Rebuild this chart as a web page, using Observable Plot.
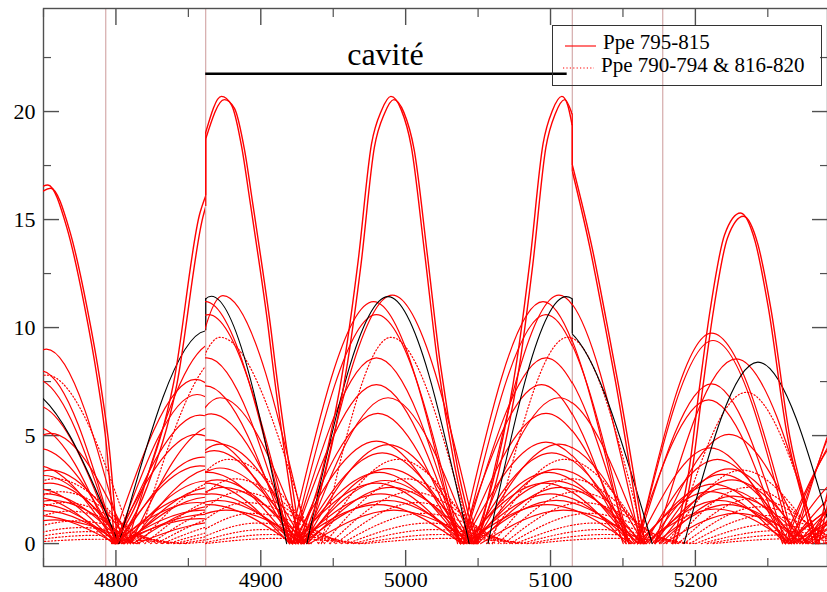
<!DOCTYPE html>
<html><head><meta charset="utf-8">
<script src="https://cdn.jsdelivr.net/npm/d3@7"></script>
<script src="https://cdn.jsdelivr.net/npm/@observablehq/plot@0.6"></script>
<style>
html,body{margin:0;padding:0;background:#fff;overflow:hidden}
#wrap{position:relative;width:827px;height:592px;overflow:hidden;font-family:"Liberation Serif","Times New Roman",serif}
.lg{position:absolute;font:21px/21px "Liberation Serif","Times New Roman",serif;white-space:nowrap;color:#000}
</style></head>
<body><div id="wrap"></div>
<script>
// ---------- axis ticks ----------
const xTicksMajor = [4800, 4900, 5000, 5100, 5200];
const xTicksMinor = [4750, 4850, 4950, 5050, 5150, 5250];
const yTicksMajor = [0, 5, 10, 15, 20];
const yTicksMinor = [2.5, 7.5, 12.5, 17.5, 22.5];
const xDomain = [4750, 5291.2];
const yDomain = [-1.06, 24.77];

// ---------- annotations ----------
const markerLines = [4793, 4862, 5115, 5177.5];
const cavityEdges = [4862, 5115];
const cavityBar = [{x1: 4862, x2: 5111.5, y: 21.75}];
const cavityLabel = [{x: 4986, y: 22.15, t: "cavité"}];
const legendLabels = ["Ppe 795-815", "Ppe 790-794 & 816-820"];

// ---------- the two large (solid) curves: read key points per hump ----------
// hump order: left edge, before cavity, cavity entry, mid cavity, cavity exit, after cavity, next, right edge
const bigA = [
  [[4744,16.3],[4753,16.6],[4766,14.65],[4778,11.1],[4787,7.7],[4793.5,4.5],[4799,0]],
  [[4799,0],[4820,2.8],[4840,7.5],[4858,15.3],[4862,16.1]],
  [[4862,19.0],[4873,20.7],[4880,20.3],[4887,18.35],[4892.6,15.9],[4899.5,12.8],[4905.3,10.0],[4908,8.5],[4926,0]],
  [[4926,0],[4942,3.2],[4958,8.5],[4967.4,13.1],[4976.6,18.5],[4983.5,20.05],[4990,20.7],[4997,20.1],[5004,18.4],[5013,13.6],[5022,8.5],[5034,3.6],[5047,0]],
  [[5047,0],[5062,3.3],[5077,8.5],[5086,13.1],[5095,18.5],[5101.5,20.05],[5108,20.7],[5112,20.3],[5115,19.4]],
  [[5115,17.2],[5127,13.7],[5136,10.6],[5144.7,7.5],[5163,0]],
  [[5184,0],[5195,3.2],[5203,7.4],[5210,10.8],[5220,14.3],[5231,15.3],[5241,14.0],[5250,11.0],[5263,5.1],[5277,1.2],[5281,0]],
  [[5283,0],[5300,5]]
];
const bigB = [
  [[4746,16.15],[4755,16.45],[4768,14.5],[4780,10.95],[4789,7.55],[4795.5,4.35],[4801,0]],
  [[4801,0],[4822,2.7],[4842,7.35],[4860,15.1],[4862,15.6]],
  [[4862,18.7],[4875,20.55],[4882,20.15],[4889,18.2],[4894.6,15.75],[4901.5,12.65],[4907.3,9.85],[4910,8.35],[4928,0]],
  [[4928,0],[4944,3.1],[4960,8.35],[4969.4,12.95],[4978.6,18.35],[4985.5,19.9],[4992,20.55],[4999,19.95],[5006,18.25],[5015,13.45],[5024,8.35],[5036,3.5],[5049,0]],
  [[5049,0],[5064,3.2],[5079,8.35],[5088,12.95],[5097,18.35],[5103.5,19.9],[5110,20.55],[5115,19.9]],
  [[5115,17.5],[5129,13.55],[5138,10.45],[5146.7,7.35],[5165,0]],
  [[5186,0],[5197,3.1],[5205,7.25],[5212,10.65],[5222,14.15],[5233,15.15],[5243,13.85],[5252,10.85],[5265,4.95],[5279,1.1],[5283,0]],
  [[5285,0],[5302,5]]
];
const bigJumps = [[4862,16.1,19.0],[5115,19.4,17.2],[4862,15.6,18.7],[5115,19.9,17.5]];

// ---------- other curves: each hump as [start zero, peak x, peak y, end zero] ----------
const blackCurve = [
  [4668,4735,7.2,4802],[4802,4863,9.85,4924],[4820,4866,11.45,4918],[4932,4988,11.43,5044],
  [5057,5111,11.43,5165],[5040,5105,10.04,5170],[5192,5243,8.4,5296],null
];
const blackJumps = [[4862,9.85,11.33],[5115,11.34,9.7]];

const solidCurves = [
  [[4700,4752,9.0,4805],[4808,4868,9.3,4928],[4835,4874,11.48,4933],[4933,4991,11.5,5050],[5050,5106,11.5,5162],[5050,5106,11.5,5162],[5172,5228,8.55,5284],[5284,5340,6,5396]],
  [[4692,4748,8.0,4800],[4797,4855,7.6,4913],[4805,4862,11.2,4920],[4920,4978,11.2,5036],[5038,5095,11.2,5152],[5038,5095,11.2,5152],[5160,5211,9.74,5268],[5268,5320,8,5372]],
  [[4690,4745,7.6,4800],[4800,4856,6.9,4912],[4808,4864,10.6,4922],[4922,4980,10.6,5038],[5040,5097,10.6,5154],[5040,5097,10.6,5154],[5160,5212,9.4,5266],[5266,5320,7.5,5374]],
  [[4690,4745,6.4,4800],[4800,4858,5.95,4916],[4806,4863,8.6,4921],[4922,4980,8.6,5038],[5040,5097,8.6,5154],[5040,5097,8.6,5154],[5160,5211,7.39,5262],[5262,5315,6,5368]],
  [[4690,4745,5.4,4798],[4798,4856,5.05,4914],[4805,4862,7.3,4920],[4922,4980,7.36,5038],[5038,5094,7.36,5150],[5038,5094,7.36,5150],[5158,5209,6.65,5260],[5260,5312,5.5,5364]],
  [[4700,4755,5.1,4810],[4810,4868,5.45,4926],[4825,4872,6.75,4930],[4930,4988,6.75,5046],[5048,5106,6.75,5164],[5048,5106,6.75,5164],[5172,5223,5.05,5276],[5276,5330,4,5384]],
  [[4692,4747,4.4,4802],[4802,4860,4.0,4918],[4810,4866,6.0,4924],[4924,4981,6.03,5038],[5040,5097,6.03,5154],[5040,5097,6.03,5154],[5160,5210,4.43,5262],[5262,5314,3.5,5366]],
  [[4692,4746,3.6,4800],[4800,4858,3.6,4916],[4806,4864,4.8,4922],[4922,4980,4.74,5038],[5040,5097,4.7,5154],[5040,5097,4.7,5154],[5165,5215,3.9,5265],[5265,5318,3,5371]],
  [[4700,4755,3.4,4810],[4810,4868,3.5,4926],[4822,4872,4.6,4930],[4930,4988,4.58,5046],[5048,5106,4.6,5164],[5048,5106,4.6,5164],[5172,5223,3.46,5274],[5274,5326,2.8,5378]],
  [[4695,4750,3.15,4805],[4805,4863,2.9,4921],[4815,4868,4.3,4926],[4926,4984,4.2,5042],[5044,5101,4.2,5158],[5044,5101,4.2,5158],[5168,5218,3.2,5270],[5270,5322,2.6,5374]],
  [[4700,4754,2.8,4808],[4808,4866,2.6,4924],[4822,4872,3.5,4930],[4930,4988,3.47,5046],[5048,5105,3.45,5162],[5048,5105,3.45,5162],[5175,5225,2.95,5277],[5277,5330,2.4,5383]],
  [[4690,4745,2.55,4800],[4800,4858,2.3,4916],[4808,4864,3.3,4922],[4924,4982,3.3,5040],[5042,5099,3.3,5156],[5042,5099,3.3,5156],[5162,5212,2.75,5264],[5264,5316,2.2,5368]],
  [[4698,4752,2.3,4806],[4806,4864,2.15,4922],[4818,4870,2.95,4928],[4928,4986,2.92,5044],[5046,5103,2.9,5160],[5046,5103,2.9,5160],[5170,5220,2.55,5272],[5272,5324,2,5376]],
  [[4688,4744,2.15,4798],[4798,4856,1.9,4914],[4806,4862,2.8,4920],[4922,4980,2.8,5038],[5040,5096,2.8,5152],[5040,5096,2.8,5152],[5160,5210,2.4,5262],[5262,5314,2,5366]],
  [[4702,4756,2.0,4812],[4812,4870,1.75,4928],[4824,4874,2.6,4932],[4932,4990,2.6,5048],[5050,5107,2.6,5164],[5050,5107,2.6,5164],[5176,5226,2.2,5278],[5278,5330,1.8,5382]],
  [[4694,4748,1.82,4802],[4802,4860,1.55,4918],[4812,4866,2.3,4924],[4925,4983,2.3,5041],[5043,5100,2.3,5157],[5043,5100,2.3,5157],[5166,5216,2.0,5268],[5268,5320,1.6,5372]],
  [[4696,4750,1.52,4804],[4804,4862,1.35,4920],[4818,4870,2.0,4928],[4929,4987,2.0,5045],[5047,5104,2.0,5161],[5047,5104,2.0,5161],[5172,5222,1.8,5274],[5274,5326,1.5,5378]],
  [[4692,4746,1.3,4800],[4800,4858,1.15,4916],[4808,4864,1.8,4922],[4923,4981,1.8,5039],[5041,5098,1.8,5155],[5041,5098,1.8,5155],[5164,5214,1.6,5266],[5266,5318,1.3,5370]],
  [[4704,4758,1.1,4814],[4814,4872,1.0,4930],[4826,4876,1.55,4934],[4934,4992,1.55,5050],[5052,5109,1.55,5166],[5052,5109,1.55,5166],[5178,5228,1.4,5280],[5280,5332,1.2,5384]]
];

const dottedCurves = [
  [[4690,4752,7.8,4812],[4815,4875,8.8,4935],[4830,4872,9.55,4935],[4942,4990,9.55,5046],[5060,5112,9.55,5165],[5060,5112,9.55,5165],[5185,5235,7.0,5285],[5290,5345,5,5400]],
  [[4700,4758,3.0,4816],[4816,4876,3.0,4936],[4830,4878,3.9,4940],[4940,4995,3.9,5052],[5056,5110,3.9,5168],[5056,5110,3.9,5168],[5180,5232,3.4,5286],[5288,5340,2.5,5392]],
  [[4705,4762,2.4,4820],[4820,4880,2.2,4940],[4835,4882,3.0,4944],[4944,5000,3.0,5058],[5060,5114,3.0,5172],[5060,5114,3.0,5172],[5184,5236,2.6,5290],null],
  [[4708,4765,1.9,4824],[4824,4884,1.8,4944],[4838,4886,2.4,4948],[4948,5004,2.4,5062],[5064,5118,2.4,5176],[5064,5118,2.4,5176],[5188,5240,2.1,5294],null],
  [[4712,4768,1.5,4828],[4828,4888,1.45,4948],[4842,4890,1.9,4952],[4952,5008,1.9,5066],[5068,5122,1.9,5180],[5068,5122,1.9,5180],[5192,5244,1.7,5298],null],
  [[4716,4772,1.05,4832],[4832,4892,1.1,4952],[4846,4894,1.4,4956],[4956,5012,1.4,5070],[5072,5126,1.4,5184],[5072,5126,1.4,5184],[5196,5248,1.3,5302],null],
  [[4720,4776,0.74,4836],[4836,4896,0.8,4956],[4850,4898,0.95,4960],[4960,5016,0.95,5074],[5076,5130,0.95,5188],[5076,5130,0.95,5188],[5200,5252,0.9,5306],null],
  [[4724,4780,0.55,4840],[4840,4900,0.6,4960],[4854,4902,0.65,4964],[4964,5020,0.65,5078],[5080,5134,0.65,5192],[5080,5134,0.65,5192],[5204,5256,0.6,5310],null],
  [[4728,4784,0.38,4844],[4844,4904,0.4,4964],[4858,4906,0.42,4968],[4968,5024,0.42,5082],[5084,5138,0.42,5196],[5084,5138,0.42,5196],[5208,5260,0.4,5314],null],
  [[4732,4788,0.2,4848],[4848,4908,0.22,4968],[4862,4910,0.24,4972],[4972,5028,0.24,5086],[5088,5142,0.24,5200],[5088,5142,0.24,5200],[5212,5264,0.22,5318],null]
];

// ---------- build table for the library ----------
const rows = [];
const regionOf = i => i < 2 ? "L" : i < 5 ? "M" : "R";
function addArches(kind, curves) {
  curves.forEach((arches, ci) => arches.forEach((a, ai) => {
    if (!a) return;
    const key = kind + ci + "_" + ai, region = regionOf(ai);
    [[a[0], 0], [a[1], a[2]], [a[3], 0]].forEach(([x, y]) => rows.push({kind, region, key, x, y}));
  }));
}
function addPaths(kind, curves) {
  curves.forEach((humps, ci) => humps.forEach((pts, ai) => {
    const key = kind + ci + "_" + ai, region = regionOf(ai);
    pts.forEach(([x, y]) => rows.push({kind, region, key, x, y}));
  }));
}
addArches("dotted", dottedCurves);
addArches("solid", solidCurves);
addArches("black", [blackCurve]);
addPaths("big", [bigA, bigB]);

const jumpRows = [
  ...bigJumps.map(([x, y1, y2]) => ({x, y1, y2, c: "#ff0000"})),
  ...blackJumps.map(([x, y1, y2]) => ({x, y1, y2, c: "#000000"}))
];

const styles = {
  dotted: {stroke: "#ff0000", strokeWidth: 1.2, strokeDasharray: "1.2,2.2"},
  solid: {stroke: "#ff0000", strokeWidth: 1.2},
  black: {stroke: "#000000", strokeWidth: 1.1},
  big: {stroke: "#ff0000", strokeWidth: 1.4}
};

const W = 827, H = 592, mL = 43, mR = 0, mT = 8, mB = 26;
const axisColor = "#505050";
const fmt = d => String(d);
const fontStyle = {fontFamily: "Liberation Serif, Times New Roman, serif", fontSize: "22px", color: "#000"};

// main plot: frame, axes, annotations
const svg = Plot.plot({
  width: W, height: H,
  marginLeft: mL, marginRight: mR, marginTop: mT, marginBottom: mB,
  x: {domain: xDomain}, y: {domain: yDomain},
  style: {...fontStyle, background: "#fff", overflow: "hidden"},
  marks: [
    Plot.ruleX(markerLines, {stroke: "#cc9a9a", strokeWidth: 1}),
    Plot.ruleX(jumpRows, {x: "x", y1: "y1", y2: "y2", stroke: "c", strokeWidth: 1.2}),
    Plot.ruleY(cavityBar, {y: "y", x1: "x1", x2: "x2", stroke: "#000", strokeWidth: 2.6}),
    Plot.text(cavityLabel, {x: "x", y: "y", text: "t", fontSize: 32, textAnchor: "middle", lineAnchor: "bottom", fill: "#000"}),
    Plot.frame({stroke: axisColor, strokeWidth: 1.4}),
    Plot.axisX(xTicksMajor, {anchor: "bottom", tickSize: -16, tickPadding: 20.4, tickFormat: fmt, stroke: axisColor, strokeWidth: 1.4, fill: "#000", label: null}),
    Plot.axisX(xTicksMinor, {anchor: "bottom", tickSize: -8, tickFormat: () => "", stroke: axisColor, strokeWidth: 1.2, label: null}),
    Plot.axisX(xTicksMajor, {anchor: "top", tickSize: -16, tickFormat: () => "", stroke: axisColor, strokeWidth: 1.4, label: null}),
    Plot.axisX(xTicksMinor, {anchor: "top", tickSize: -8, tickFormat: () => "", stroke: axisColor, strokeWidth: 1.2, label: null}),
    Plot.axisY(yTicksMajor, {anchor: "left", tickSize: -16, tickPadding: 24, tickFormat: fmt, stroke: axisColor, strokeWidth: 1.4, fill: "#000", label: null}),
    Plot.axisY(yTicksMinor, {anchor: "left", tickSize: -8, tickFormat: () => "", stroke: axisColor, strokeWidth: 1.2, label: null}),
    Plot.axisY(yTicksMajor, {anchor: "right", tickSize: -16, tickFormat: () => "", stroke: axisColor, strokeWidth: 1.4, label: null}),
    Plot.axisY(yTicksMinor, {anchor: "right", tickSize: -8, tickFormat: () => "", stroke: axisColor, strokeWidth: 1.2, label: null})
  ]
});
const wrap = document.getElementById("wrap");
svg.style.position = "absolute"; svg.style.left = "0px"; svg.style.top = "0px";
wrap.appendChild(svg);

// curves: three overlays, one per side of the cavity edges, each sharing the same pixel mapping
const sx = svg.scale("x");
const X = d3.scaleLinear(sx.domain, sx.range);
const regionBounds = {L: [xDomain[0], cavityEdges[0]], M: [cavityEdges[0], cavityEdges[1]], R: [cavityEdges[1], xDomain[1]]};
for (const region of ["L", "M", "R"]) {
  const [a, b] = regionBounds[region];
  const left = X(a), right = X(b), w = right - left;
  const marks = [];
  for (const kind of ["dotted", "solid", "black", "big"]) {
    marks.push(Plot.line(rows.filter(r => r.kind === kind && r.region === region), {
      x: "x", y: "y", z: "key", curve: "monotone-x", ...styles[kind]
    }));
  }
  const ov = Plot.plot({
    width: w, height: H,
    marginLeft: 0, marginRight: 0, marginTop: mT, marginBottom: mB,
    x: {domain: [a, b], axis: null}, y: {domain: yDomain, axis: null},
    style: {background: "transparent", overflow: "hidden"},
    marks
  });
  ov.style.position = "absolute"; ov.style.left = left + "px"; ov.style.top = "0px";
  ov.style.overflow = "hidden";
  wrap.appendChild(ov);
}

// legend (box with samples)
const box = document.createElement("div");
box.style.cssText = "position:absolute;left:552px;top:25px;width:270px;height:61px;border:1.3px solid #333;box-sizing:border-box";
wrap.appendChild(box);
const samples = [
  {left: 565, top: 40, dash: null},
  {left: 563, top: 62, dash: "1.2,2.2"}
];
samples.forEach((s, i) => {
  const ns = "http://www.w3.org/2000/svg";
  const sv = document.createElementNS(ns, "svg");
  sv.setAttribute("width", 34); sv.setAttribute("height", 12);
  sv.style.cssText = `position:absolute;left:${s.left}px;top:${s.top}px`;
  const ln = document.createElementNS(ns, "line");
  ln.setAttribute("x1", 0); ln.setAttribute("x2", 31); ln.setAttribute("y1", 6); ln.setAttribute("y2", 6);
  ln.setAttribute("stroke", "#ff0000"); ln.setAttribute("stroke-width", 1.1);
  if (s.dash) ln.setAttribute("stroke-dasharray", s.dash);
  sv.appendChild(ln); wrap.appendChild(sv);
  const t = document.createElement("div");
  t.className = "lg";
  t.style.left = (i === 0 ? 603 : 601) + "px";
  t.style.top = (i === 0 ? 32 : 54.5) + "px";
  t.textContent = legendLabels[i];
  wrap.appendChild(t);
});
</script>
</body></html>
